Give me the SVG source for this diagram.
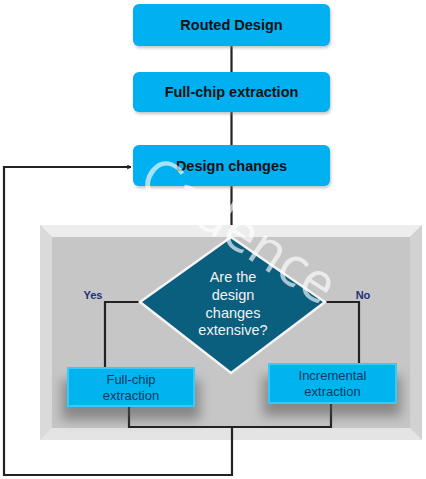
<svg xmlns="http://www.w3.org/2000/svg" width="426" height="479" viewBox="0 0 426 479">
<defs>
<style>
.top{fill:#00B0F0;}
.ttxt{font-family:"Liberation Sans",Arial,sans-serif;font-weight:bold;font-size:14.5px;fill:#111;text-anchor:middle;}
.stxt{font-family:"Liberation Sans",Arial,sans-serif;font-size:13px;fill:#17375E;text-anchor:middle;}
.dtxt{font-family:"Liberation Sans",Arial,sans-serif;font-size:14.5px;fill:#F2F2F2;text-anchor:middle;}
.lbl{font-family:"Liberation Sans",Arial,sans-serif;font-weight:bold;font-size:11px;fill:#1F2F7A;text-anchor:middle;}
.wire{fill:none;stroke:#222;stroke-width:2.2;}
.sbox{fill:#00B4F0;stroke:#3AC8F8;stroke-width:2;}
</style>
<filter id="sh" x="-20%" y="-20%" width="140%" height="160%">
<feGaussianBlur stdDeviation="1.5"/>
</filter>
<filter id="sh2" x="-30%" y="-40%" width="160%" height="200%">
<feGaussianBlur stdDeviation="6"/>
</filter>
<marker id="arr" viewBox="0 0 10 10" refX="9" refY="5" markerWidth="5" markerHeight="5" orient="auto" markerUnits="userSpaceOnUse">
<path d="M1,1 L9,5 L1,9" fill="none" stroke="#222" stroke-width="2"/>
</marker>
</defs>

<g id="panel">
<rect x="40" y="225" width="382" height="215" fill="#DCDCDC"/>
<polygon points="40,225 422,225 410,237 52,237" fill="#EDEDED"/>
<polygon points="40,225 52,237 52,428 40,440" fill="#DADADA"/>
<polygon points="422,225 422,440 410,428 410,237" fill="#D2D2D2"/>
<polygon points="40,440 52,428 410,428 422,440" fill="#E4E4E4"/>
<rect x="52" y="237" width="358" height="191" fill="#C6C6C6"/>
</g>

<g id="connectors">
<line class="wire" x1="231.5" y1="46" x2="231.5" y2="72"/>
<line class="wire" x1="231.5" y1="112" x2="231.5" y2="145"/>
<line class="wire" x1="231.5" y1="186" x2="231.5" y2="225"/>
<polyline class="wire" points="140,302 105,302 105,367"/>
<polyline class="wire" points="325,302 359,302 359,363"/>
<polyline class="wire" points="129,407 129,427 331,427 331,404"/>
<polyline class="wire" points="232,427 232,475 4,475 4,167 131,167" marker-end="url(#arr)"/>
</g>

<g id="routed-design">
<rect x="134" y="6" width="197" height="42" rx="6" fill="#888" opacity="0.5" filter="url(#sh)"/>
<rect class="top" x="133" y="4" width="197" height="42" rx="6"/>
<text class="ttxt" x="231.5" y="30">Routed Design</text>
</g>

<g id="full-chip-extraction-top">
<rect x="134" y="74" width="197" height="40" rx="6" fill="#888" opacity="0.5" filter="url(#sh)"/>
<rect class="top" x="133" y="72" width="197" height="40" rx="6"/>
<text class="ttxt" x="231.5" y="97">Full-chip extraction</text>
</g>

<g id="design-changes">
<rect x="134" y="147" width="197" height="41" rx="6" fill="#888" opacity="0.5" filter="url(#sh)"/>
<rect class="top" x="133" y="145" width="197" height="41" rx="6"/>
<text class="ttxt" x="231.5" y="171">Design changes</text>
</g>

<g id="decision">
<polygon points="231,237 325,302 231,373 140,302" fill="#0A5E7E" stroke="#F4F4F4" stroke-width="2.5"/>
<text class="dtxt" x="233" y="282">Are the</text>
<text class="dtxt" x="233" y="300">design</text>
<text class="dtxt" x="233" y="318">changes</text>
<text class="dtxt" x="233" y="335">extensive?</text>
<text class="lbl" x="93" y="299">Yes</text>
<text class="lbl" x="363" y="299">No</text>
</g>

<g id="full-chip-extraction-yes">
<rect x="62" y="380" width="138" height="40" fill="#555" opacity="0.55" filter="url(#sh2)"/>
<rect class="sbox" x="68" y="368" width="126" height="38"/>
<text class="stxt" x="131" y="384">Full-chip</text>
<text class="stxt" x="131" y="400">extraction</text>
</g>

<g id="incremental-extraction">
<rect x="263" y="376" width="138" height="40" fill="#555" opacity="0.55" filter="url(#sh2)"/>
<rect class="sbox" x="269" y="364" width="127" height="39"/>
<text class="stxt" x="332.5" y="380">Incremental</text>
<text class="stxt" x="332.5" y="396">extraction</text>
</g>

<g id="watermark">
<text x="0" y="0" transform="translate(136,186) rotate(33)" font-family="'Open Sans','Liberation Sans',Arial,sans-serif" font-size="55" fill="#FFFFFF" fill-opacity="0.65">Cadence</text>
</g>
</svg>
